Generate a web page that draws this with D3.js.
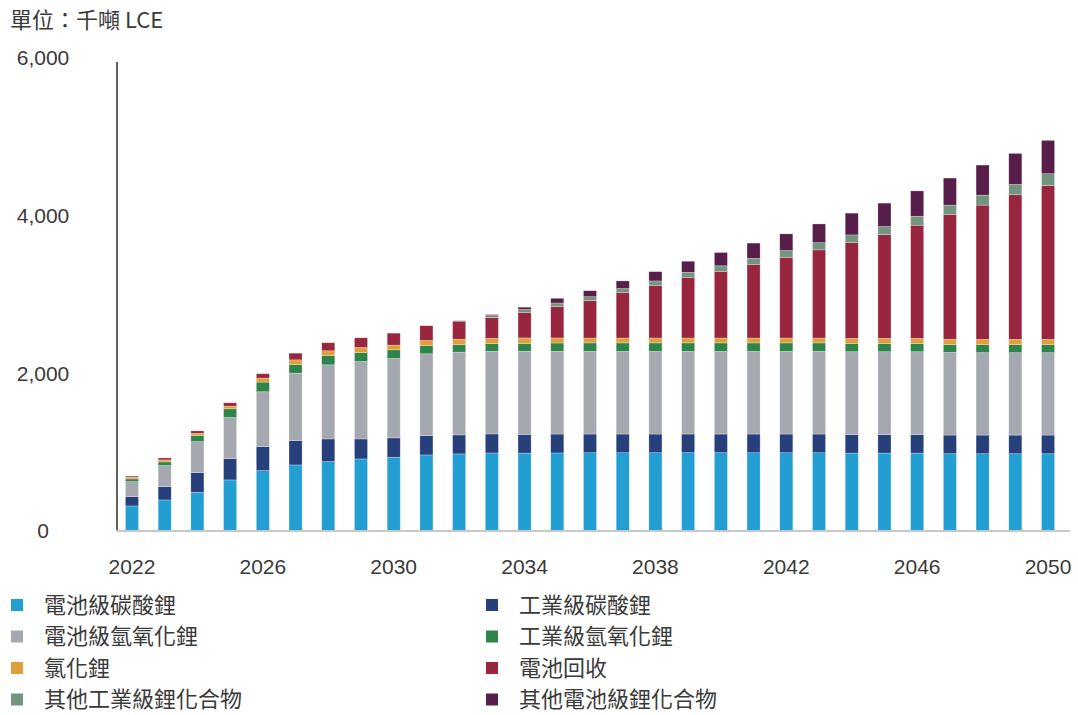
<!DOCTYPE html>
<html lang="zh-Hant">

<head>
  <meta charset="utf-8">
  <title>鋰需求</title>
  <style>
    body {
      margin: 0;
      background: #fff;
    }

    #chart text {
      font-family: "Noto Sans CJK TC", "Noto Sans", sans-serif;
      fill: #3a3a3a;
    }

    #chart .num text {
      font-family: "Liberation Sans", Arial, sans-serif;
      font-size: 21px;
    }
  </style>
</head>

<body>
  <div id="chart"></div>
</body>
<script src="https://d3js.org/d3.v7.min.js"></script>

<script>
  var years = d3.range(2022, 2051);
  var yTicks = [0, 2000, 4000, 6000];
  var xLabels = [2022, 2026, 2030, 2034, 2038, 2042, 2046, 2050];

  var seriesNames = ["電池級碳酸鋰", "工業級碳酸鋰", "電池級氫氧化鋰", "工業級氫氧化鋰",
    "氯化鋰", "電池回收", "其他工業級鋰化合物", "其他電池級鋰化合物"];
  var seriesColors = ["#239ed3", "#273f7a", "#a5a8ae", "#2e8449",
    "#e09f38", "#98263f", "#73957f", "#561e48"];

  // 千噸 LCE, 2022..2050
  var batCarb = [318, 394, 491, 648, 766, 838, 880, 914, 936, 965, 978, 990, 988, 990, 993, 993, 993,
    993, 993, 993, 993, 993, 988, 988, 988, 980, 980, 980, 980];
  var indCarb = [118, 169, 249, 271, 305, 309, 288, 254, 245, 245, 241, 241, 238, 240, 237, 237, 237,
    237, 237, 237, 237, 237, 236, 236, 236, 237, 237, 237, 237];
  var batHyd = [190, 267, 394, 521, 695, 855, 940, 982, 1007, 1038, 1050, 1048, 1055, 1050, 1048, 1048,
    1048, 1048, 1048, 1048, 1048, 1048, 1050, 1050, 1050, 1048, 1045, 1045, 1045];
  var indHyd = [35, 47, 76, 110, 123, 109, 118, 114, 110, 102, 97, 98, 98, 105, 108, 108, 108,
    108, 108, 108, 108, 108, 104, 104, 104, 100, 102, 102, 102];
  var chloride = [20, 25, 30, 34, 51, 60, 60, 64, 60, 67, 67, 67, 70, 64, 62, 62, 62,
    62, 62, 62, 62, 62, 66, 66, 66, 68, 68, 68, 68];
  var recycling = [15, 25, 30, 42, 55, 85, 102, 123, 152, 187, 229, 263, 321, 398, 474, 575, 668,
    770, 846, 935, 1024, 1118, 1214, 1316, 1435, 1582, 1702, 1833, 1951];
  var otherInd = [0, 0, 0, 0, 0, 0, 0, 0, 0, 0, 5, 25, 40, 45, 50, 52, 56,
    64, 70, 75, 85, 92, 98, 102, 114, 119, 127, 131, 149];
  var otherBat = [0, 0, 0, 0, 0, 0, 0, 0, 0, 0, 3, 13, 29, 60, 76, 97, 118,
    140, 169, 194, 212, 237, 276, 297, 321, 343, 381, 394, 423];

  var seriesValues = [batCarb, indCarb, batHyd, indHyd, chloride, recycling, otherInd, otherBat];

  var width = 1078,
    height = 715;

  var svg = d3.select("#chart")
    .append("svg")
    .attr("width", width)
    .attr("height", height);

  var rows = years.map(function (yr, i) {
    var r = { year: yr };
    seriesNames.forEach(function (name, k) {
      r[name] = seriesValues[k][i];
    });
    return r;
  });

  var stacked = d3.stack().keys(seriesNames)(rows);

  var x = d3.scaleBand()
    .domain(years)
    .range([115.6, 1064.4])
    .paddingInner(0.6)
    .paddingOuter(0.3);

  var y = d3.scaleLinear()
    .domain([0, 6000])
    .range([531, 58]);

  // title
  svg.append("text")
    .attr("x", 10)
    .attr("y", 28)
    .style("font-size", "22px")
    .text("單位：千噸 LCE");

  // bars
  svg.append("g")
    .selectAll("g")
    .data(stacked)
    .enter()
    .append("g")
    .attr("fill", function (d, i) {
      return seriesColors[i];
    })
    .selectAll("rect")
    .data(function (d) {
      return d;
    })
    .enter()
    .append("rect")
    .attr("x", function (d) {
      return x(d.data.year);
    })
    .attr("y", function (d) {
      return y(d[1]);
    })
    .attr("width", x.bandwidth())
    .attr("height", function (d) {
      return Math.max(0, y(d[0]) - y(d[1]));
    })
    .attr("stroke", "rgba(255,255,255,0.45)")
    .attr("stroke-width", 0.6);

  // y axis
  var yAxis = svg.append("g")
    .attr("class", "num")
    .attr("transform", "translate(117,0)")
    .call(d3.axisLeft(y).tickValues(yTicks).tickSize(0).tickFormat(d3.format(",")));
  yAxis.select(".domain")
    .attr("stroke", "#606060")
    .attr("stroke-width", 2)
    .attr("d", "M0," + y(5950) + "V" + y(0));
  yAxis.selectAll("text")
    .attr("x", -74)
    .attr("text-anchor", "middle");

  // x axis
  var xAxis = svg.append("g")
    .attr("class", "num")
    .attr("transform", "translate(0," + y(0) + ")")
    .call(d3.axisBottom(x).tickValues(xLabels).tickSize(0));
  xAxis.select(".domain")
    .attr("stroke", "#c8c8c8")
    .attr("stroke-width", 2)
    .attr("d", "M116,0H1070");
  xAxis.selectAll("text")
    .attr("y", 36)
    .attr("dy", "0.35em");

  // legend
  var legend = svg.append("g")
    .selectAll("g")
    .data(seriesNames)
    .enter()
    .append("g")
    .attr("transform", function (d, i) {
      var col = i % 2,
        row = Math.floor(i / 2);
      return "translate(" + (col === 0 ? 11 : 486) + "," + (605 + row * 31.5) + ")";
    });

  legend.append("rect")
    .attr("x", 0)
    .attr("y", -6)
    .attr("width", 12)
    .attr("height", 12)
    .attr("fill", function (d, i) {
      return seriesColors[i];
    });

  legend.append("text")
    .attr("x", 33)
    .attr("dy", "0.35em")
    .style("font-size", "22px")
    .text(function (d) {
      return d;
    });
</script>

</html>
